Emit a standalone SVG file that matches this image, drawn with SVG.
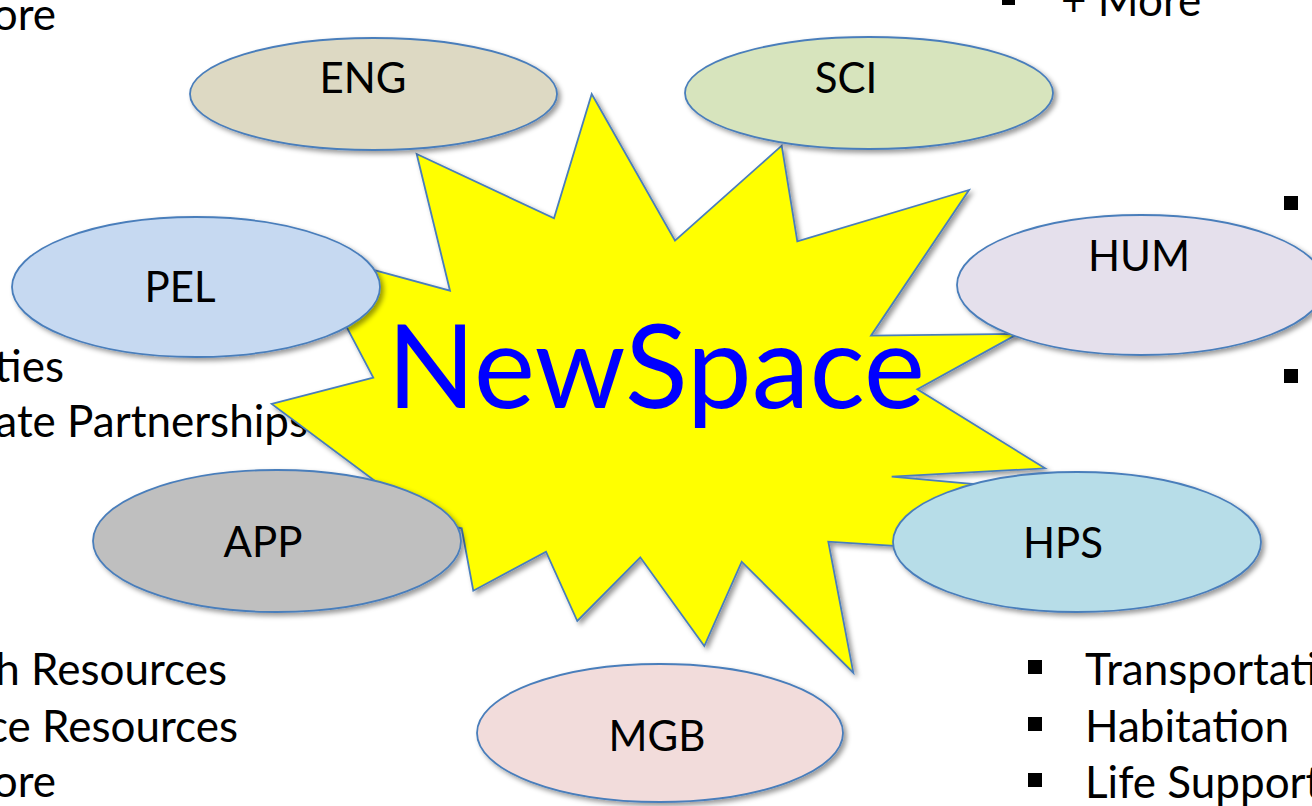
<svg xmlns="http://www.w3.org/2000/svg" width="1312" height="806" viewBox="0 0 1312 806">
<defs>
<filter id="sh" x="-10%" y="-10%" width="130%" height="140%">
<feDropShadow dx="3" dy="3" stdDeviation="2.5" flood-color="#000" flood-opacity="0.4"/>
</filter>
<style>
.node ellipse{stroke:#4A7EBB;stroke-width:1.8;filter:url(#sh)}
.lbl{font-family:Lato,"Open Sans","DejaVu Sans",sans-serif;font-size:42px;fill:#000;text-anchor:middle}
.note{font-family:Lato,"Open Sans","DejaVu Sans",sans-serif;font-size:44px;fill:#000}
.bul{fill:#000}
</style>
</defs>
<rect width="1312" height="806" fill="#fff"/>

<g id="notes">
<text class="note" x="56" y="30" text-anchor="end">ore</text>
<rect class="bul" x="1002" y="-8" width="13" height="13"/>
<text class="note" x="1061" y="16">+ More</text>
<rect class="bul" x="1284" y="196" width="14" height="14"/>
<rect class="bul" x="1284" y="369" width="14" height="14"/>
<text class="note" x="64" y="382" text-anchor="end">ties</text>
<text class="note" x="308" y="437" text-anchor="end">ate Partnerships</text>
<text class="note" x="227" y="685" text-anchor="end">h Resources</text>
<text class="note" x="238" y="742" text-anchor="end">ce Resources</text>
<text class="note" x="56" y="797" text-anchor="end">ore</text>
<rect class="bul" x="1028" y="660" width="14" height="14"/>
<rect class="bul" x="1028" y="717" width="14" height="14"/>
<rect class="bul" x="1028" y="773" width="14" height="14"/>
<text class="note" x="1085" y="685">Transportati</text>
<text class="note" x="1085" y="742">Habitation</text>
<text class="note" x="1085" y="798">Life Support</text>
</g>

<g id="newspace">
<polygon filter="url(#sh)" fill="#FFFF00" stroke="#4A7EBB" stroke-width="1.8" stroke-linejoin="miter" points="416.7,154 554,218.3 591.7,94 675,240.7 781.7,145.7 797.3,241.3 969,190 871,335.7 1017.9,333.9 917.3,389.3 1045,468.3 891.7,476.7 985,485 990,552 828.3,541.7 853.3,672.7 741.7,561.7 704.3,646 640.3,557.3 577.3,621 546,551.7 473.3,590.7 461.7,528.3 430,522 271.7,404 373.3,377.7 307.1,251.9 450,290.7"/>
<text x="656" y="408" text-anchor="middle" font-family="Lato,'Open Sans','DejaVu Sans',sans-serif" font-size="116" fill="#0000FF">NewSpace</text>
</g>

<g id="connectors"></g>

<g id="ENG" class="node"><ellipse cx="373.5" cy="94" rx="183.5" ry="56" fill="#DDD9C3"/><text class="lbl" x="363" y="93">ENG</text></g>
<g id="SCI" class="node"><ellipse cx="869" cy="93" rx="184" ry="56" fill="#D7E4BD"/><text class="lbl" x="846" y="93">SCI</text></g>
<g id="PEL" class="node"><ellipse cx="196" cy="287" rx="184" ry="70" fill="#C6D9F1"/><text class="lbl" x="180" y="302">PEL</text></g>
<g id="HUM" class="node"><ellipse cx="1141" cy="285" rx="184" ry="70" fill="#E5E0EC"/><text class="lbl" x="1139" y="271">HUM</text></g>
<g id="APP" class="node"><ellipse cx="277" cy="541" rx="184" ry="71" fill="#BFBFBF"/><text class="lbl" x="263" y="557">APP</text></g>
<g id="HPS" class="node"><ellipse cx="1077" cy="542" rx="184" ry="70" fill="#B7DDE8"/><text class="lbl" x="1063" y="558">HPS</text></g>
<g id="MGB" class="node"><ellipse cx="660" cy="733" rx="183" ry="69" fill="#F2DCDB"/><text class="lbl" x="657" y="751">MGB</text></g>
</svg>
